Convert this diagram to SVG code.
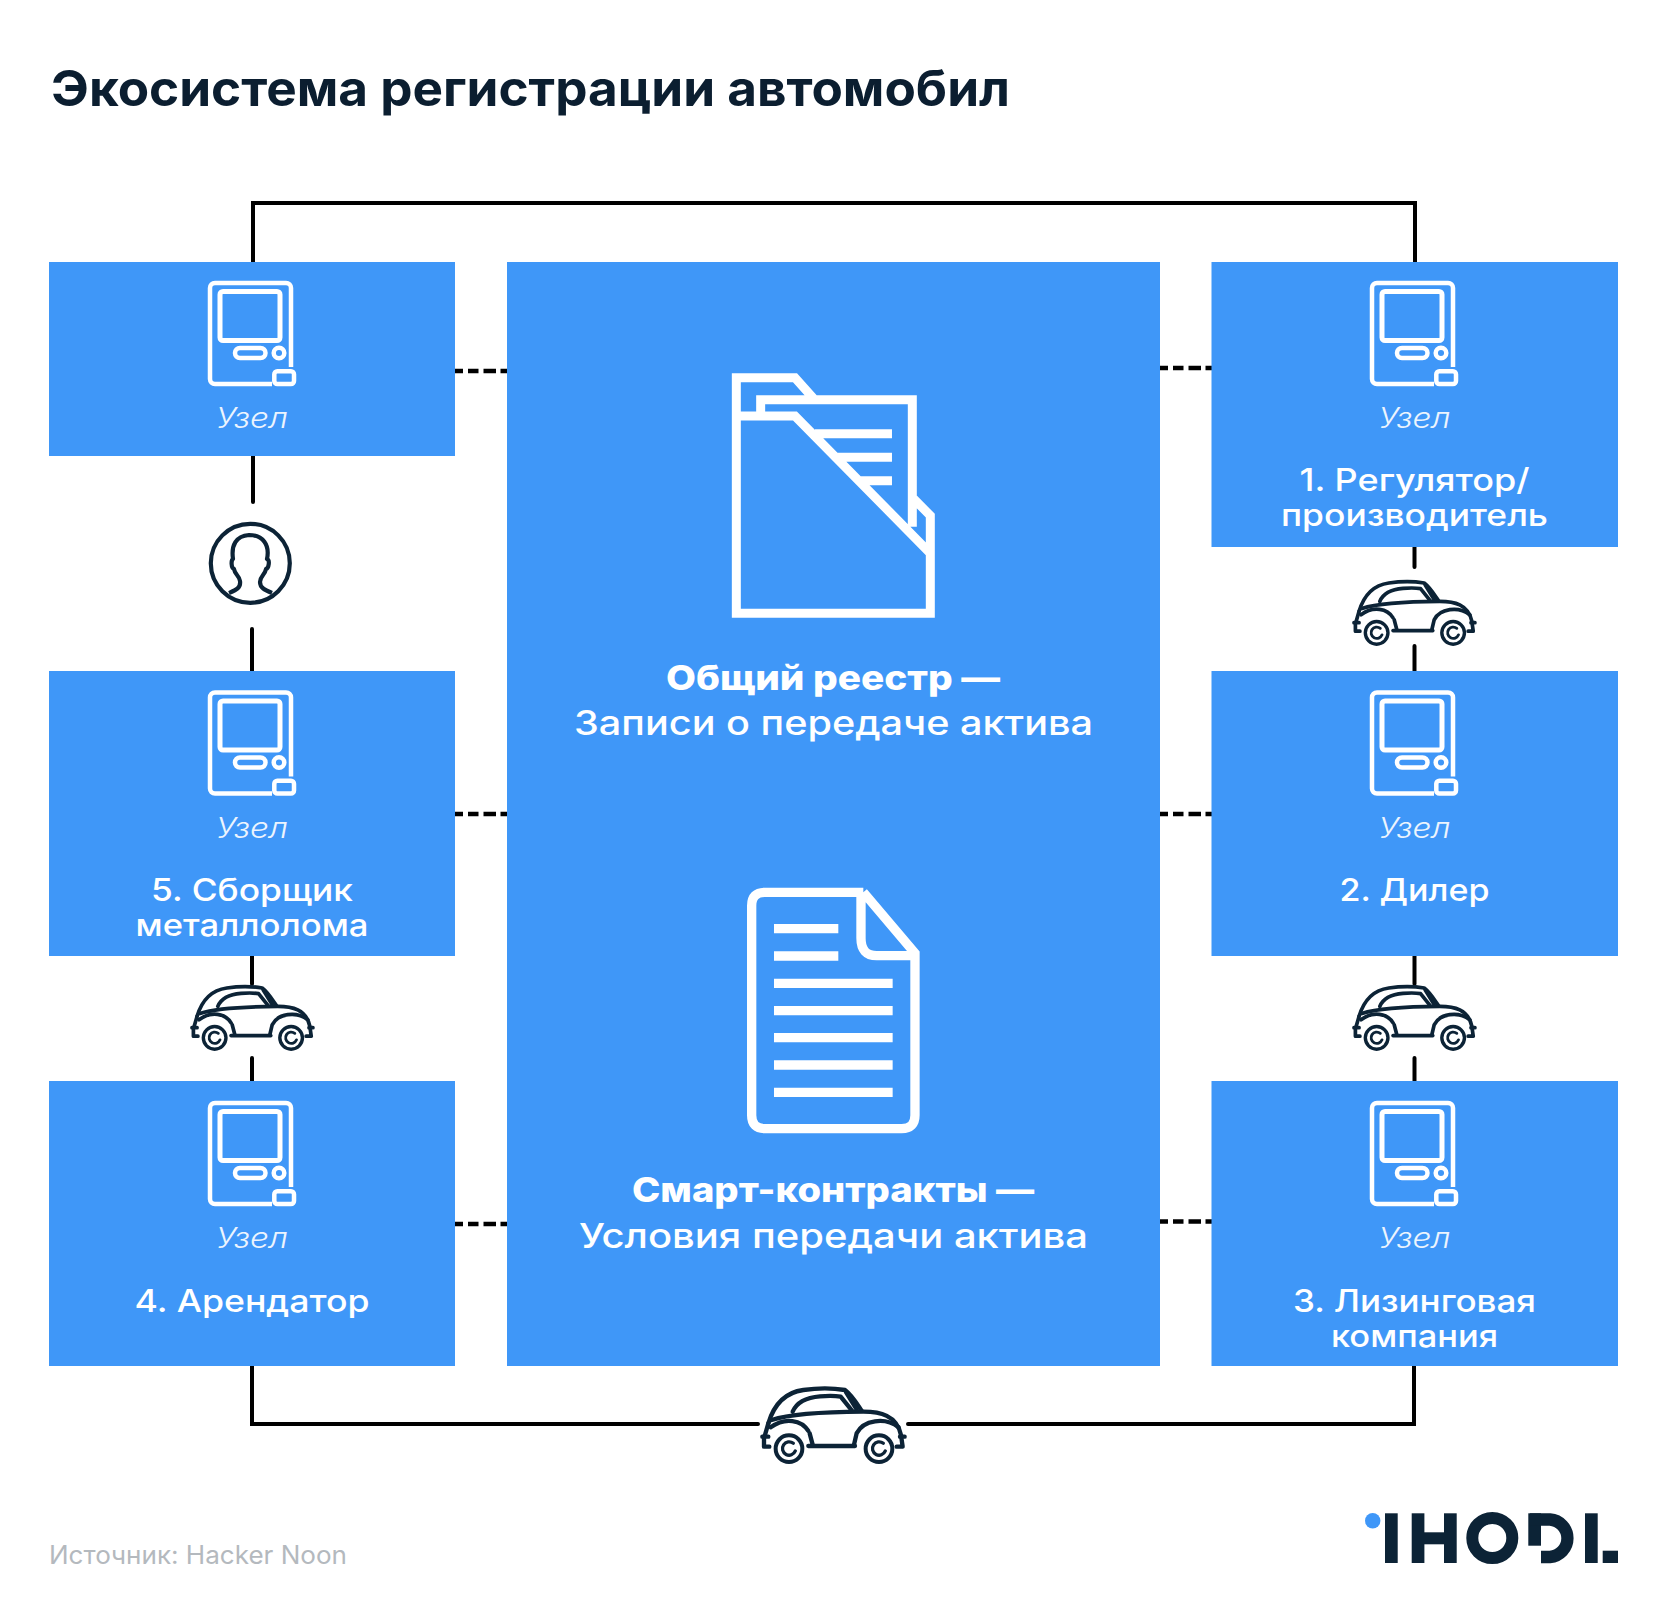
<svg xmlns="http://www.w3.org/2000/svg" xmlns:xlink="http://www.w3.org/1999/xlink" width="1667" height="1615" viewBox="0 0 1667 1615">
<style>
text{font-family:"Inter","Liberation Sans",sans-serif}
.title{font-size:49px;font-weight:700;fill:#0b1e30}
.box{fill:#3f97f8}
.uz{font-size:29px;font-weight:300;font-style:italic;fill:#fff;text-anchor:middle;opacity:.9}
.lab{font-size:31px;font-weight:500;fill:#fff;text-anchor:middle}
.big{font-size:34px;font-weight:500;fill:#fff;text-anchor:middle}
.bold{font-weight:800}
.src{font-size:25px;fill:#b4b9be}
.con{fill:none;stroke:#000;stroke-width:4;stroke-linecap:round;stroke-linejoin:miter}
.dash{fill:none;stroke:#000;stroke-width:4.500;stroke-dasharray:8 5 10.500 5 12.500 4.500 7 0}
.ic{fill:none;stroke:#fff}
.car{fill:none;stroke:#0c2336;stroke-width:13;stroke-linecap:round;stroke-linejoin:round}
.logo{fill:#0c2336}
</style>
<defs>
<g id="term" class="ic" stroke-width="4.500">
<path d="M291 367V288a5 5 0 0 0-5-5H215a5 5 0 0 0-5 5V379a5 5 0 0 0 5 5H272"/>
<rect x="220" y="291.500" width="60" height="49" rx="3" stroke-width="5"/>
<rect x="235" y="348" width="30.500" height="10" rx="5"/>
<circle cx="279" cy="353" r="5.300"/>
<rect x="274.300" y="371.300" width="19.700" height="12.700" rx="3"/>
</g>
<g id="car" class="car">
<path d="M85 160C100 110 130 68 190 60C230 54 280 54 315 60C335 75 350 100 365 122"/>
<path d="M158 125C170 97 200 82 240 79C265 77 285 77 302 80L336 122"/>
<path d="M318 66L350 118"/>
<path d="M95 150C140 135 220 126 370 125C420 125 470 135 483 195L488 230H470"/>
<path d="M85 160L72 205V230H88"/>
<path d="M67 200H85M480 200H494"/>
<path d="M92 172C135 140 185 150 205 183M209 190L218 224"/>
<path d="M205 228H345"/>
<path d="M342 224L350 190C370 150 435 140 476 172"/>
<circle cx="147" cy="236" r="40" stroke-width="12"/>
<circle cx="417" cy="236" r="40" stroke-width="12"/>
<path d="M160 220A20 20 0 1 0 166 243" stroke-width="10"/>
<path d="M430 220A20 20 0 1 0 436 243" stroke-width="10"/>
</g>
</defs>
<rect width="1667" height="1615" fill="#fff"/>
<text class="title" x="51" y="106" textLength="959" lengthAdjust="spacingAndGlyphs">Экосистема регистрации автомобил</text>
<g id="connectors">
<path class="con" d="M253 262V203H1415V262"/>
<path class="con" d="M253 456V502M252 629V671M252 956V984M252 1058V1081"/>
<path class="con" d="M1414.500 547V567M1414.500 646V671M1414.500 956V984M1414.500 1058V1081"/>
<path class="con" d="M252 1366V1424H758M908 1424H1414V1366"/>
<path class="dash" d="M455 371H507M455 814H507M455 1224H507M1160 368H1212M1160 814H1212M1160 1221.500H1212"/>
</g>
<g id="node-center">
<rect class="box" x="507" y="262" width="653" height="1104"/>
<g class="ic" stroke-width="27" transform="translate(700 350) scale(.3333)">
<path d="M640 445L691 497V790H109V83H285L340 145M109 198H285L691 610M182 185V149H637V530M345 251H576M410 322H576M480 392H576"/>
</g>
<g class="ic" stroke-width="28" transform="translate(730 870) scale(.3333)">
<path d="M400 67H105Q65 67 65 107V736Q65 776 105 776H515Q555 776 555 736V250L400 67M393 67V205Q393 257 440 257H555M132 176H325M132 258H325M132 340H488M132 422H488M132 503H488M132 585H488M132 667H488"/>
</g>
<text class="big bold" x="833" y="690" textLength="334" lengthAdjust="spacingAndGlyphs">Общий реестр —</text>
<text class="big" x="833.500" y="735" textLength="519" lengthAdjust="spacingAndGlyphs">Записи о передаче актива</text>
<text class="big bold" x="833" y="1202" textLength="402" lengthAdjust="spacingAndGlyphs">Смарт-контракты —</text>
<text class="big" x="833.500" y="1248" textLength="509" lengthAdjust="spacingAndGlyphs">Условия передачи актива</text>
</g>
<g id="node-top-left">
<rect class="box" x="49" y="262" width="406" height="194"/>
<use href="#term"/>
<text class="uz" x="252" y="428" textLength="72" lengthAdjust="spacingAndGlyphs">Узел</text>
</g>
<g id="node-5">
<rect class="box" x="49" y="671" width="406" height="285"/>
<use href="#term" y="409.500"/>
<text class="uz" x="252" y="838" textLength="72" lengthAdjust="spacingAndGlyphs">Узел</text>
<text class="lab" x="252" y="901" textLength="202" lengthAdjust="spacingAndGlyphs">5. Сборщик</text>
<text class="lab" x="252" y="935.500" textLength="233" lengthAdjust="spacingAndGlyphs">металлолома</text>
</g>
<g id="node-4">
<rect class="box" x="49" y="1081" width="406" height="285"/>
<use href="#term" y="820"/>
<text class="uz" x="252" y="1248" textLength="72" lengthAdjust="spacingAndGlyphs">Узел</text>
<text class="lab" x="252" y="1312" textLength="235" lengthAdjust="spacingAndGlyphs">4. Арендатор</text>
</g>
<g id="node-1">
<rect class="box" x="1211.500" y="262" width="406.500" height="285"/>
<use href="#term" x="1162"/>
<text class="uz" x="1414.500" y="428" textLength="72" lengthAdjust="spacingAndGlyphs">Узел</text>
<text class="lab" x="1414.500" y="491" textLength="230" lengthAdjust="spacingAndGlyphs">1. Регулятор/</text>
<text class="lab" x="1414.500" y="526" textLength="267" lengthAdjust="spacingAndGlyphs">производитель</text>
</g>
<g id="node-2">
<rect class="box" x="1211.500" y="671" width="406.500" height="285"/>
<use href="#term" x="1162" y="409.500"/>
<text class="uz" x="1414.500" y="838" textLength="72" lengthAdjust="spacingAndGlyphs">Узел</text>
<text class="lab" x="1414.500" y="901" textLength="150" lengthAdjust="spacingAndGlyphs">2. Дилер</text>
</g>
<g id="node-3">
<rect class="box" x="1211.500" y="1081" width="406.500" height="285"/>
<use href="#term" x="1162" y="820"/>
<text class="uz" x="1414.500" y="1248" textLength="72" lengthAdjust="spacingAndGlyphs">Узел</text>
<text class="lab" x="1414.500" y="1312" textLength="243" lengthAdjust="spacingAndGlyphs">3. Лизинговая</text>
<text class="lab" x="1414.500" y="1347" textLength="167" lengthAdjust="spacingAndGlyphs">компания</text>
</g>
<g id="node-person" fill="none" stroke="#0c2336" stroke-width="4.200">
<circle cx="250.300" cy="563.300" r="39.500"/>
<path d="M229 593C236 590 241 588 240 581C239 575 235 575 234 569C231 568 231 560 233 559C231 545 236 536 249 535C263 535 270 545 267 559C270 560 269 568 266 569C265 575 260 576 260 582C260 588 265 590 272 593" stroke-linejoin="round"/>
</g>
<g id="car-top-right"><use href="#car" transform="translate(1335 566) scale(.2833)"/></g>
<g id="car-right-mid"><use href="#car" transform="translate(1335 971) scale(.2833)"/></g>
<g id="car-left-mid"><use href="#car" transform="translate(173 971) scale(.2833)"/></g>
<g id="car-bottom"><use href="#car" transform="translate(740 1370) scale(.3333)"/></g>
<text class="src" x="49" y="1564" textLength="298" lengthAdjust="spacingAndGlyphs">Источник: Hacker Noon</text>
<g id="logo" class="logo">
<circle cx="1372.700" cy="1520.700" r="7.700" fill="#3f97f8"/>
<rect x="1385" y="1513.300" width="12.700" height="49.700"/>
<rect x="1411.700" y="1513.300" width="12.700" height="49.700"/>
<rect x="1444" y="1513.300" width="12.700" height="49.700"/>
<rect x="1424" y="1532.300" width="20" height="12"/>
<circle cx="1492.300" cy="1538" r="20" fill="none" stroke="#0c2336" stroke-width="12"/>
<rect x="1528.300" y="1513.300" width="12.700" height="32.400"/>
<path d="M1530 1519.500H1550A18.800 18.800 0 0 1 1550 1557H1541" fill="none" stroke="#0c2336" stroke-width="12.300"/>
<rect x="1585" y="1513.300" width="12.700" height="49.700"/>
<rect x="1602.700" y="1550.700" width="15.300" height="12.300"/>
</g>
</svg>
